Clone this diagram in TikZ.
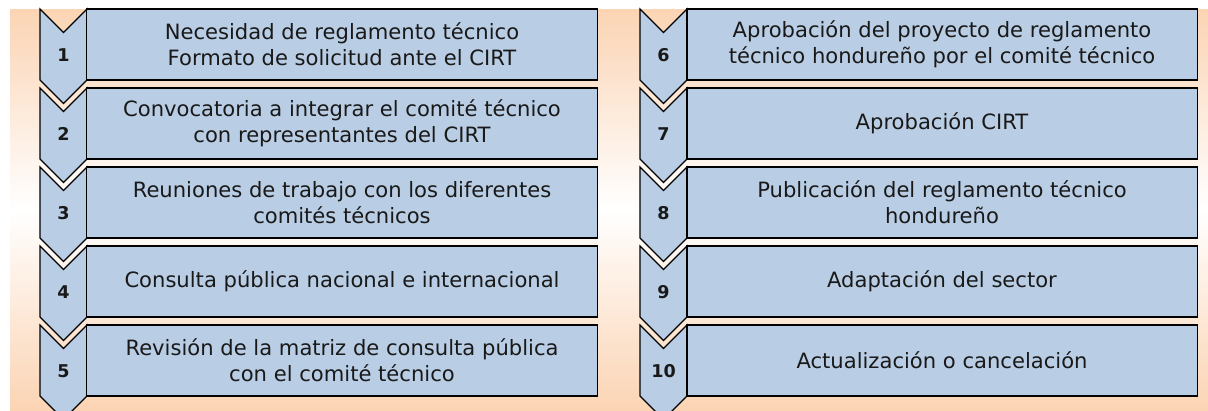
\documentclass[tikz,border=0pt]{standalone}
\usepackage{fontspec}
\setmainfont{DejaVu Sans}
\definecolor{boxblue}{RGB}{185,205,228}
\definecolor{peach}{RGB}{251,212,180}
\definecolor{txtgray}{RGB}{25,25,25}
\begin{document}
\begin{tikzpicture}[x=0.025cm, y=-0.025cm,
    stepbox/.style={draw=black, line width=0.8pt, fill=boxblue, align=center,
        minimum width=12.75cm, minimum height=1.775cm, inner sep=0pt,
        text=txtgray, font=\fontsize{15}{18.5}\selectfont},
    numlabel/.style={text=txtgray, font=\fontsize{12.5}{14}\selectfont\bfseries},
    chevron/.style={draw=black, line width=0.8pt, fill=boxblue, line join=miter}]
    \useasboundingbox (0,0) rectangle (1208,410);
    \clip (0,0) rectangle (1208,410);

    % Background band
    \shade[top color=peach, bottom color=peach, middle color=white] (10,9) rectangle (1208,410);

    % Steps: chevron with number, box with text
    \foreach \n/\row/\col/\txt in {
        1/0/0/{Necesidad de reglamento técnico\\Formato de solicitud ante el CIRT},
        2/1/0/{Convocatoria a integrar el comité técnico\\con representantes del CIRT},
        3/2/0/{Reuniones de trabajo con los diferentes\\comités técnicos},
        4/3/0/{Consulta pública nacional e internacional},
        5/4/0/{Revisión de la matriz de consulta pública\\con el comité técnico},
        6/0/1/{Aprobación del proyecto de reglamento\\técnico hondureño por el comité técnico},
        7/1/1/{Aprobación CIRT},
        8/2/1/{Publicación del reglamento técnico\\hondureño},
        9/3/1/{Adaptación del sector},
        10/4/1/{Actualización o cancelación}} {
        \pgfmathsetmacro\top{9+79*\row}
        \pgfmathsetmacro\lft{40+600*\col}
        \draw[chevron] (\lft,\top) -- ++(23.5,23.5) -- ++(23.5,-23.5) -- ++(0,71)
            -- ++(-23.5,23.5) -- ++(-23.5,-23.5) -- cycle;
        \node[numlabel] (num\n) at (\lft+23.5,\top+46) {\n};
        \node[stepbox] (box\n) at (\lft+47+255,\top+35.5) {\txt};
    }
\end{tikzpicture}
\end{document}
